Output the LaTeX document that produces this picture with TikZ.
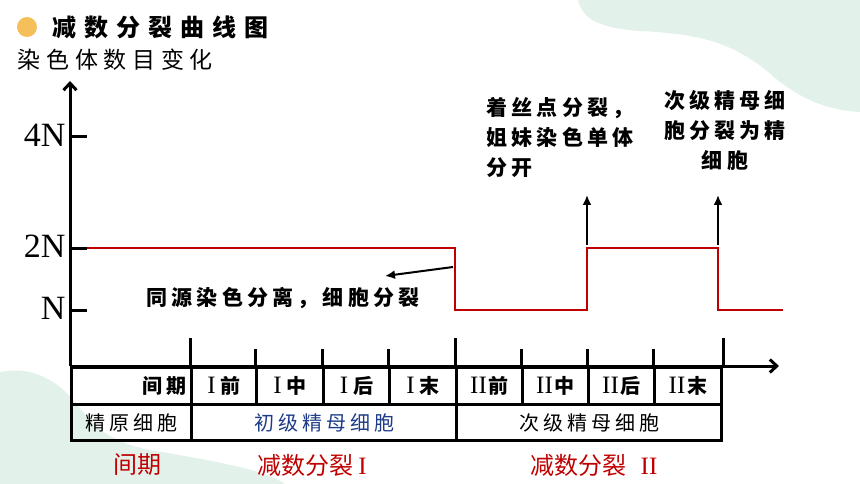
\documentclass[tikz,border=0pt]{standalone}
\usepackage{fontspec}
\setmainfont{Liberation Serif}
\newfontfamily\cjk{Noto Sans CJK SC}
\newfontfamily\cjkls[LetterSpace=20]{Noto Sans CJK SC}
\newfontfamily\cjkwide[LetterSpace=25]{Noto Sans CJK SC}
\newfontfamily\cjktitle[LetterSpace=33]{Noto Sans CJK SC}
\usepackage{xcolor}
\usepackage{tikz}
\usetikzlibrary{positioning}
\usetikzlibrary{arrows.meta}
\definecolor{mint}{HTML}{E2F2EA}
\definecolor{dotorange}{HTML}{F5C05A}
\definecolor{curvered}{HTML}{C00000}
\definecolor{cellblue}{HTML}{1F3C88}
\newcommand{\rn}[1]{{\rmfamily\mdseries\fontsize{25}{25}\selectfont #1}}

\begin{document}
\begin{tikzpicture}[
	x=1pt, y=-1pt,
	line width=3pt,
	font=\cjkls
]
\tikzset{
    cell/.style = {rectangle, draw=black, anchor=north west, inner sep=0pt, minimum height=37pt, font=\cjkls\fontsize{20}{22}\selectfont},
    head/.style = {cell, font=\cjkls\bfseries\fontsize{20}{22}\selectfont},
    note/.style = {inner sep=0pt, font=\cjkls\bfseries\fontsize{21}{30}\selectfont},
    phase/.style = {inner sep=0pt, text=curvered, font=\cjk\fontsize{24}{26}\selectfont},
    level/.style = {anchor=east, inner sep=0pt, font=\rmfamily\fontsize{34}{36}\selectfont},
    pointer/.style = {-{Latex[length=10pt,width=9pt]}, line width=2pt}
}
\useasboundingbox (0,0) rectangle (860,484);
% background blobs
\fill[mint] (578,0) .. controls (583,20) and (600,28) .. (640,31) .. controls (700,34) and (735,42) .. (775,78) .. controls (805,102) and (830,110) .. (860,112) -- (860,0) -- cycle;
\fill[mint] (0,372) .. controls (30,366) and (55,378) .. (75,402) .. controls (95,428) and (110,442) .. (150,450) .. controls (220,462) and (265,470) .. (285,484) -- (0,484) -- cycle;

% title
\node[circle, fill=dotorange, minimum size=20pt, inner sep=0pt] (dot) at (27,27) {};
\node[anchor=west, inner sep=0pt, font=\cjktitle\bfseries\fontsize{24}{26}\selectfont] (title) at (51,27) {减数分裂曲线图};
\node[anchor=west, inner sep=0pt, font=\cjkwide\fontsize{23}{25}\selectfont] (ylabel) at (16,60) {染色体数目变化};

% axes
\coordinate (O) at (70,366);
\coordinate (ytop) at (70,81);
\coordinate (xend) at (779,366);
\draw[-{Straight Barb[length=7pt,width=13pt]}] (O) -- (ytop);
\draw[-{Straight Barb[length=7pt,width=13pt]}] (O) -- (xend);
\foreach \lab/\yy in {4N/137, 2N/248, N/310} {
  \draw (70,\yy) -- (87,\yy);
  \node[level] (lv\lab) at (67,\yy-2) {\lab};
}

% table, row 1
\node[head, minimum width=120pt, text width=110pt, align=right] (c0) at (70,366) {间期};
\node[head, minimum width=65pt] (c1) at (190,366) {\rn{I}\hspace{5pt}前};
\node[head, minimum width=67pt] (c2) at (255,366) {\rn{I}\hspace{5pt}中};
\node[head, minimum width=66pt] (c3) at (322,366) {\rn{I}\hspace{5pt}后};
\node[head, minimum width=67pt] (c4) at (388,366) {\rn{I}\hspace{5pt}末};
\node[head, minimum width=66pt] (c5) at (455,366) {\rn{II}\hspace{2pt}前};
\node[head, minimum width=66pt] (c6) at (521,366) {\rn{II}\hspace{2pt}中};
\node[head, minimum width=66pt] (c7) at (587,366) {\rn{II}\hspace{2pt}后};
\node[head, minimum width=67pt] (c8) at (653,366) {\rn{II}\hspace{2pt}末};
% table, row 2
\node[cell, minimum width=120pt, minimum height=36pt] (d0) at (70,403) {精原细胞};
\node[cell, minimum width=265pt, minimum height=36pt, text=cellblue] (d1) at (190,403) {初级精母细胞};
\node[cell, minimum width=265pt, minimum height=36pt] (d2) at (455,403) {次级精母细胞};

% ticks above the axis
\foreach \c in {c1,c5} \draw (\c.north west) -- ++(0,-28);
\foreach \c in {c2,c3,c4,c6,c7,c8} \draw (\c.north west) -- ++(0,-17);
\draw (c8.north east) -- ++(0,-28);

% chromosome number curve
\coordinate (r0) at (87,248);
\coordinate (r1) at (455,248);
\coordinate (r2) at (455,310);
\coordinate (r3) at (587,310);
\coordinate (r4) at (587,248);
\coordinate (r5) at (718,248);
\coordinate (r6) at (718,310);
\coordinate (r7) at (783,310);
\draw[curvered, line width=2.8pt] (r0) -- (r1) -- (r2) -- (r3) -- (r4) -- (r5) -- (r6) -- (r7);

% notes
\node[note] (homolog) at (283,298) {同源染色分离，细胞分裂};
\node[note, align=left] (sister) at (560,137) {着丝点分裂，\\姐妹染色单体\\分开};
\node[note, align=center] (daughter) at (725,130) {次级精母细\\胞分裂为精\\细胞};
\coordinate (split) at (453,267);
\coordinate (splitend) at (385,276);
\coordinate (a1) at (587,245);
\coordinate (a1end) at (587,195);
\coordinate (a2) at (718,245);
\coordinate (a2end) at (718,195);
\draw[pointer] (split) -- (splitend);
\draw[pointer] (a1) -- (a1end);
\draw[pointer] (a2) -- (a2end);

% phases
\node[phase] (interph) at (137,465) {间期};
\node[phase] (mei1) at (312,465) {减数分裂\hspace{5pt}\rn{I}};
\node[phase] (mei2) at (594,465) {减数分裂\hspace{14pt}\rn{II}};
\end{tikzpicture}
\end{document}
